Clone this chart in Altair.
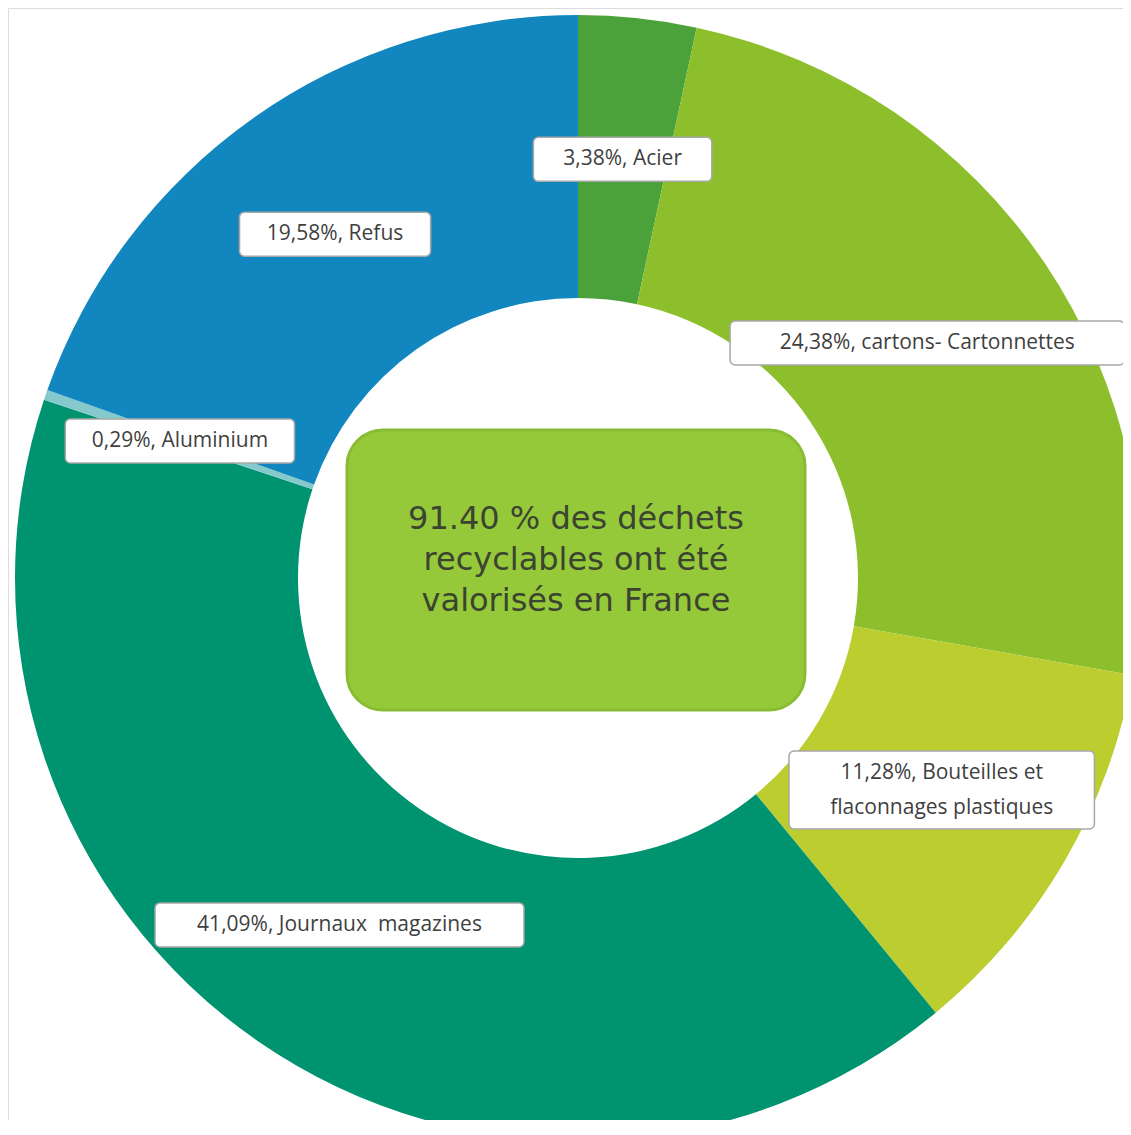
import altair as alt
import pandas as pd

# ---- data ----
categories = ["Acier", "cartons- Cartonnettes", "Bouteilles et flaconnages plastiques",
              "Journaux  magazines", "Aluminium", "Refus"]
values = [3.38, 24.38, 11.28, 41.09, 0.29, 19.58]
label_lines = [
    ["3,38%, Acier"],
    ["24,38%, cartons- Cartonnettes"],
    ["11,28%, Bouteilles et", "flaconnages plastiques"],
    ["41,09%, Journaux\u00a0 magazines"],
    ["0,29%, Aluminium"],
    ["19,58%, Refus"],
]
colors = ["#4ba23a", "#8dbf2c", "#bccd30", "#00936f", "#86c9cc", "#1286be"]
center_lines = ["91.40 % des déchets", "recyclables ont été", "valorisés en France"]

W, H = 1115, 1112
CX, CY = 570, 570
R_OUT, R_IN, R_LAB = 563, 280, 421
LH = 35

df = pd.DataFrame({
    "category": categories,
    "value": values,
    "order": list(range(len(categories))),
    "label": label_lines,
    "nlines": [len(l) for l in label_lines],
    "maxlen": [max(len(s) for s in l) for l in label_lines],
})

xs = alt.Scale(domain=[-CX, W - CX], range=[0, W], nice=False, zero=False)
ys = alt.Scale(domain=[-(H - CY), CY], range=[H, 0], nice=False, zero=False)

base = alt.Chart(df)

arcs = base.mark_arc(outerRadius=R_OUT, innerRadius=R_IN).encode(
    theta=alt.Theta("value:Q", stack=True),
    order=alt.Order("order:Q"),
    color=alt.Color("category:N", scale=alt.Scale(domain=categories, range=colors), legend=None),
    x=alt.value(CX),
    y=alt.value(CY),
)

pos = base.transform_joinaggregate(total="sum(value)").transform_window(
    cum="sum(value)", sort=[alt.SortField("order")], frame=[None, 0]
).transform_calculate(
    ang="2*PI*(datum.cum - datum.value/2)/datum.total",
    cx=f"{R_LAB}*sin(datum.ang)",
    cy=f"{R_LAB}*cos(datum.ang)",
    ty=f"datum.cy + (datum.nlines - 1)*{LH}/2",
    w="datum.maxlen*12.7 + 26",
    h="datum.nlines*34 + 10",
    x1="datum.cx - datum.w/2",
    x2="datum.cx + datum.w/2",
    y1="datum.cy - datum.h/2",
    y2="datum.cy + datum.h/2",
)

boxes = pos.mark_rect(fill="white", stroke="#a8a8a8", strokeWidth=1.5, cornerRadius=5).encode(
    x=alt.X("x1:Q", scale=xs, axis=None),
    x2="x2:Q",
    y=alt.Y("y1:Q", scale=ys, axis=None),
    y2="y2:Q",
)

texts = pos.mark_text(font="Open Sans", fontSize=21, color="#3f3f3f", lineHeight=LH,
                      baseline="middle", align="center").encode(
    x=alt.X("cx:Q", scale=xs, axis=None),
    y=alt.Y("ty:Q", scale=ys, axis=None),
    text="label",
)

cdf = pd.DataFrame({"t": [center_lines]})
cbox = alt.Chart(cdf).mark_rect(fill="#96c93a", stroke="#88bc35", strokeWidth=3, cornerRadius=36).encode(
    x=alt.value(339), x2=alt.value(797), y=alt.value(422), y2=alt.value(702)
)
ctext = alt.Chart(cdf).mark_text(font="DejaVu Sans", fontSize=32, color="#3a4430", lineHeight=41,
                                 baseline="middle", align="center").encode(
    x=alt.value(568), y=alt.value(511), text="t"
)

chart = alt.layer(arcs, cbox, ctext, boxes, texts).properties(
    width=W, height=H, padding=0, autosize=alt.AutoSizeParams(type="none")
).configure_view(stroke="transparent", strokeWidth=0).configure(background="white")

chart.save("out.html", embed_options={"renderer": "svg", "actions": False})
